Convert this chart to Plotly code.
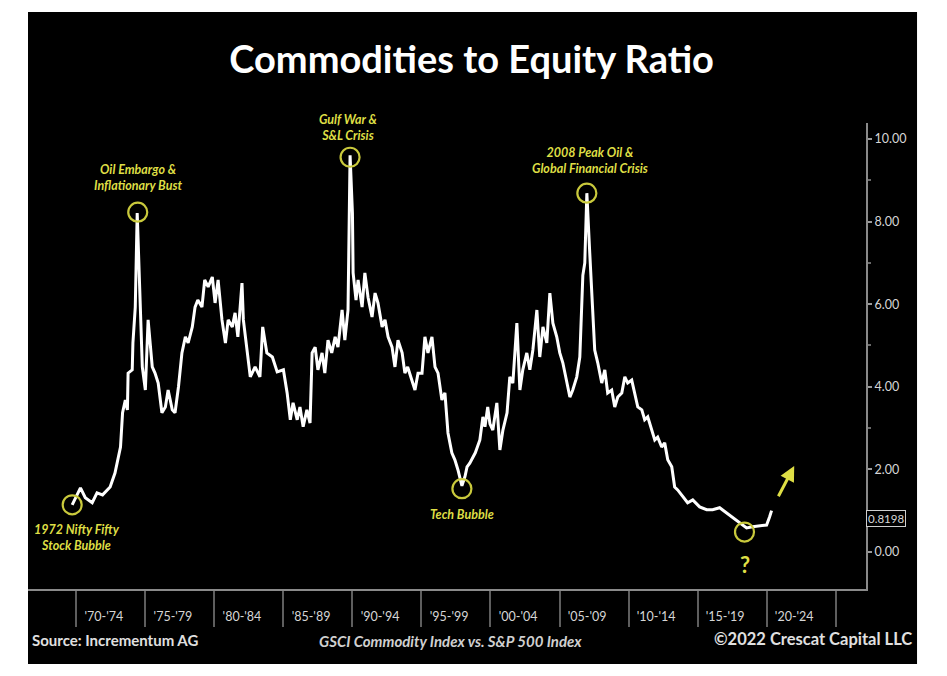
import plotly.graph_objects as go

# ── Data (decimal year, commodities/equity ratio) ──
YEARS = [
    1969.7, 1970.0, 1970.3, 1970.65, 1971.15, 1971.5, 1971.9, 1972.45, 1972.8,
    1973.2, 1973.35, 1973.55, 1973.7, 1973.75, 1974.05, 1974.1, 1974.27, 1974.41,
    1974.56, 1974.78, 1975.0, 1975.2, 1975.5, 1975.7, 1975.93, 1976.2, 1976.45,
    1976.65, 1976.95, 1977.15, 1977.4, 1977.65, 1977.9, 1978.1, 1978.4, 1978.6,
    1978.8, 1979.1, 1979.3, 1979.55, 1979.85, 1980.05, 1980.27, 1980.55, 1980.8,
    1981.0, 1981.3, 1981.5, 1981.7, 1982.0, 1982.1, 1982.4, 1982.6, 1982.95,
    1983.3, 1983.5, 1983.8, 1984.2, 1984.55, 1985.0, 1985.27, 1985.5, 1985.7,
    1986.0, 1986.2, 1986.43, 1986.7, 1986.93, 1987.08, 1987.3, 1987.5, 1987.8,
    1988.0, 1988.23, 1988.5, 1988.75, 1988.95, 1989.25, 1989.45, 1989.68, 1989.83,
    1990.0, 1990.05, 1990.26, 1990.41, 1990.7, 1990.9, 1991.13, 1991.42, 1991.64,
    1991.85, 1992.15, 1992.36, 1992.58, 1992.87, 1993.08, 1993.3, 1993.6, 1993.8,
    1994.0, 1994.3, 1994.53, 1994.75, 1995.04, 1995.25, 1995.47, 1995.76, 1995.98,
    1996.2, 1996.48, 1996.7, 1996.92, 1997.2, 1997.42, 1997.64, 1997.93, 1998.15,
    1998.3, 1998.5, 1998.73, 1998.9, 1999.23, 1999.45, 1999.6, 1999.8, 1999.96,
    2000.17, 2000.46, 2000.68, 2000.9, 2001.2, 2001.4, 2001.62, 2001.91, 2002.13,
    2002.34, 2002.63, 2002.85, 2003.07, 2003.36, 2003.57, 2003.8, 2004.08, 2004.3,
    2004.52, 2004.8, 2005.02, 2005.24, 2005.53, 2005.75, 2005.96, 2006.25, 2006.47,
    2006.69, 2006.83, 2006.98, 2007.19, 2007.34, 2007.55, 2007.77, 2008.06, 2008.28,
    2008.49, 2008.78, 2009.0, 2009.22, 2009.51, 2009.73, 2009.94, 2010.23, 2010.45,
    2010.67, 2010.96, 2011.17, 2011.39, 2011.68, 2011.9, 2012.11, 2012.4, 2012.62,
    2012.84, 2013.13, 2013.34, 2013.56, 2013.92, 2014.28, 2014.65, 2015.15, 2015.66,
    2016.09, 2016.6, 2017.11, 2017.54, 2018.05, 2018.55, 2018.99, 2019.49, 2020.0,
    2020.22, 2020.36,
]
RATIO = [
    1.14, 1.35, 1.55, 1.31, 1.19, 1.43, 1.38, 1.57, 1.91,
    2.54, 3.37, 3.68, 3.44, 4.33, 4.41, 5.06, 5.93, 8.21,
    6.59, 4.48, 3.92, 5.62, 4.48, 4.33, 4.09, 3.37, 3.51,
    3.92, 3.44, 3.37, 4.00, 4.82, 5.21, 5.06, 5.45, 5.93,
    6.10, 5.93, 6.59, 6.42, 6.66, 6.03, 6.59, 5.62, 5.06,
    5.62, 5.45, 5.79, 5.21, 6.51, 5.62, 4.72, 4.24, 4.48,
    4.24, 5.45, 4.82, 4.72, 4.36, 4.41, 3.85, 3.20, 3.61,
    3.20, 3.51, 3.03, 3.44, 3.12, 4.82, 4.96, 4.41, 4.82,
    4.33, 5.13, 4.82, 5.21, 4.96, 5.86, 5.13, 5.86, 9.61,
    8.21, 6.76, 6.10, 6.59, 5.93, 6.76, 6.17, 5.69, 6.27,
    6.03, 5.45, 5.62, 5.21, 4.96, 4.48, 5.13, 4.82, 4.33,
    4.48, 4.16, 3.92, 4.33, 4.33, 5.21, 4.82, 5.21, 4.48,
    4.33, 3.68, 3.85, 2.88, 2.40, 2.23, 1.99, 1.60, 1.82,
    2.06, 2.15, 2.30, 2.40, 2.71, 3.27, 3.03, 3.51, 3.10,
    2.95, 3.61, 2.47, 2.95, 3.37, 4.24, 4.09, 5.54, 3.92,
    4.41, 4.82, 4.41, 4.89, 5.86, 4.72, 5.45, 5.06, 6.27,
    5.54, 5.21, 4.82, 4.58, 4.09, 3.75, 3.92, 4.24, 4.72,
    6.70, 7.00, 8.69, 7.24, 6.34, 4.89, 4.58, 4.09, 4.41,
    3.85, 3.92, 3.51, 3.75, 3.85, 4.24, 4.09, 4.16, 3.85,
    3.51, 3.44, 3.20, 3.27, 2.95, 2.71, 2.78, 2.54, 2.64,
    2.23, 2.06, 1.57, 1.50, 1.33, 1.19, 1.26, 1.09, 1.02,
    1.02, 1.07, 0.94, 0.85, 0.70, 0.58, 0.61, 0.63, 0.65,
    0.85, 1.00,
]
LAST_VALUE = 0.8198

# 5-year bins on the x axis
BIN_STARTS = [1970, 1975, 1980, 1985, 1990, 1995, 2000, 2005, 2010, 2015, 2020, 2025]
BIN_LABELS = ["'70-'74", "'75-'79", "'80-'84", "'85-'89", "'90-'94", "'95-'99",
              "'00-'04", "'05-'09", "'10-'14", "'15-'19", "'20-'24"]
Y_TICKS = [0, 2, 4, 6, 8, 10]

# circled turning points
EVENT_X = [1969.7, 1974.45, 1989.83, 1997.93, 2006.98, 2018.4]
EVENT_Y = [1.14, 8.23, 9.56, 1.53, 8.69, 0.48]

# callout texts
LABEL_X = [1970.07, 1974.49, 1989.68, 1997.93, 2007.19]
LABEL_Y = [0.34, 9.06, 10.29, 0.90, 9.49]
LABEL_TEXT = [
    "1972 Nifty Fifty<br>Stock Bubble",
    "Oil Embargo &<br>Inflationary Bust",
    "Gulf War &<br>S&L Crisis",
    "Tech Bubble",
    "2008 Peak Oil &<br>Global Financial Crisis",
]
QUESTION_XY = (2018.4, -0.31)
ARROW_TAIL = (2020.8, 1.31)
ARROW_HEAD = (2022.0, 2.08)

YELLOW = "#dede45"
RING = "#c9c93c"
FONT = "Lato"
X_RANGE = [1966.5, 2027.2]

fig = go.Figure()
fig.add_trace(go.Scatter(
    x=YEARS, y=RATIO, mode="lines",
    line=dict(color="#ffffff", width=3),
    hoverinfo="skip",
))
fig.add_trace(go.Scatter(
    x=EVENT_X, y=EVENT_Y, mode="markers",
    marker=dict(symbol="circle-open", size=19, color=RING, line=dict(width=2.2, color=RING)),
    hoverinfo="skip",
))
# carrier for the label axis
fig.add_trace(go.Scatter(x=[], y=[], xaxis="x2", hoverinfo="skip"))

for x, y, t in zip(LABEL_X, LABEL_Y, LABEL_TEXT):
    fig.add_annotation(
        x=x, y=y, text=f"<b><i>{t}</i></b>", showarrow=False,
        font=dict(family=FONT, size=12.5, color=YELLOW),
        align="center",
    )
fig.add_annotation(
    x=QUESTION_XY[0], y=QUESTION_XY[1], text="<b>?</b>", showarrow=False,
    font=dict(family=FONT, size=22, color=YELLOW),
)
fig.add_annotation(
    x=ARROW_HEAD[0], y=ARROW_HEAD[1], ax=ARROW_TAIL[0], ay=ARROW_TAIL[1],
    xref="x", yref="y", axref="x", ayref="y", text="",
    showarrow=True, arrowhead=2, arrowsize=1.0, arrowwidth=3, arrowcolor=YELLOW,
)
# last value tag on the right axis
fig.add_annotation(
    x=1.0, xref="paper", y=LAST_VALUE, yref="y", xanchor="left",
    text=f"{LAST_VALUE:.4f}", showarrow=False,
    font=dict(family=FONT, size=11.5, color="#d8d8d8"),
    bgcolor="#000000", bordercolor="#cfcfcf", borderwidth=1, borderpad=1,
)

# footer
fig.add_annotation(
    x=0.002, y=-0.133, xref="paper", yref="paper", xanchor="left",
    text="<b>Source: Incrementum AG</b>", showarrow=False,
    font=dict(family=FONT, size=15, color="#e0e0e0"),
)
fig.add_annotation(
    x=0.5036, y=-0.135, xref="paper", yref="paper", xanchor="center",
    text="<b><i>GSCI Commodity Index vs. S&P 500 Index</i></b>", showarrow=False,
    font=dict(family=FONT, size=15, color="#d0d0d0"),
)
fig.add_annotation(
    x=1.057, y=-0.133, xref="paper", yref="paper", xanchor="right",
    text="<b>©2022 Crescat Capital LLC</b>", showarrow=False,
    font=dict(family=FONT, size=16.5, color="#e0e0e0"),
)

# black card on a thin white frame
fig.add_shape(
    type="rect", xref="paper", yref="paper", layer="below",
    x0=0.0, x1=1.0609, y0=-0.161, y1=1.238,
    fillcolor="#000000", line=dict(width=0),
)

fig.update_layout(
    width=947, height=676,
    paper_bgcolor="#ffffff", plot_bgcolor="rgba(0,0,0,0)",
    margin=dict(l=28, r=81, t=123, b=87),
    showlegend=False,
    title=dict(
        text="<b>Commodities to Equity Ratio</b>",
        x=0.498, xref="container", xanchor="center",
        y=0.911, yref="container", yanchor="middle",
        font=dict(family=FONT, size=38, color="#ffffff"),
    ),
    xaxis=dict(
        range=X_RANGE, showgrid=False, zeroline=False,
        tickmode="array", tickvals=BIN_STARTS, showticklabels=False,
        ticks="outside", ticklen=36, tickwidth=2, tickcolor="#5e5e5e",
        showline=True, linecolor="#8a8a8a", linewidth=2,
    ),
    xaxis2=dict(
        range=X_RANGE, overlaying="x", side="bottom", anchor="y",
        showgrid=False, zeroline=False, showline=False,
        tickmode="array", tickvals=[b + 2 for b in BIN_STARTS[:-1]], ticktext=BIN_LABELS,
        ticks="outside", ticklen=16, tickcolor="rgba(0,0,0,0)",
        tickfont=dict(family=FONT, size=12.5, color="#d6d6d6"),
    ),
    yaxis=dict(
        range=[-0.9, 10.39], side="right", showgrid=False, zeroline=False,
        tickmode="array", tickvals=Y_TICKS, tickformat=".2f",
        ticks="outside", ticklen=4, tickwidth=2, tickcolor="#9a9a9a",
        minor=dict(tickvals=[1, 3, 5, 7, 9], ticks="outside", ticklen=3, tickcolor="#6a6a6a"),
        showline=True, linecolor="#8a8a8a", linewidth=2,
        tickfont=dict(family=FONT, size=12.5, color="#d6d6d6"),
    ),
)

# the page's default body margin would shift the card off the frame
fig.write_html(
    "out.html",
    config={"displayModeBar": False},
    post_script="document.body.style.margin = '0';",
)
